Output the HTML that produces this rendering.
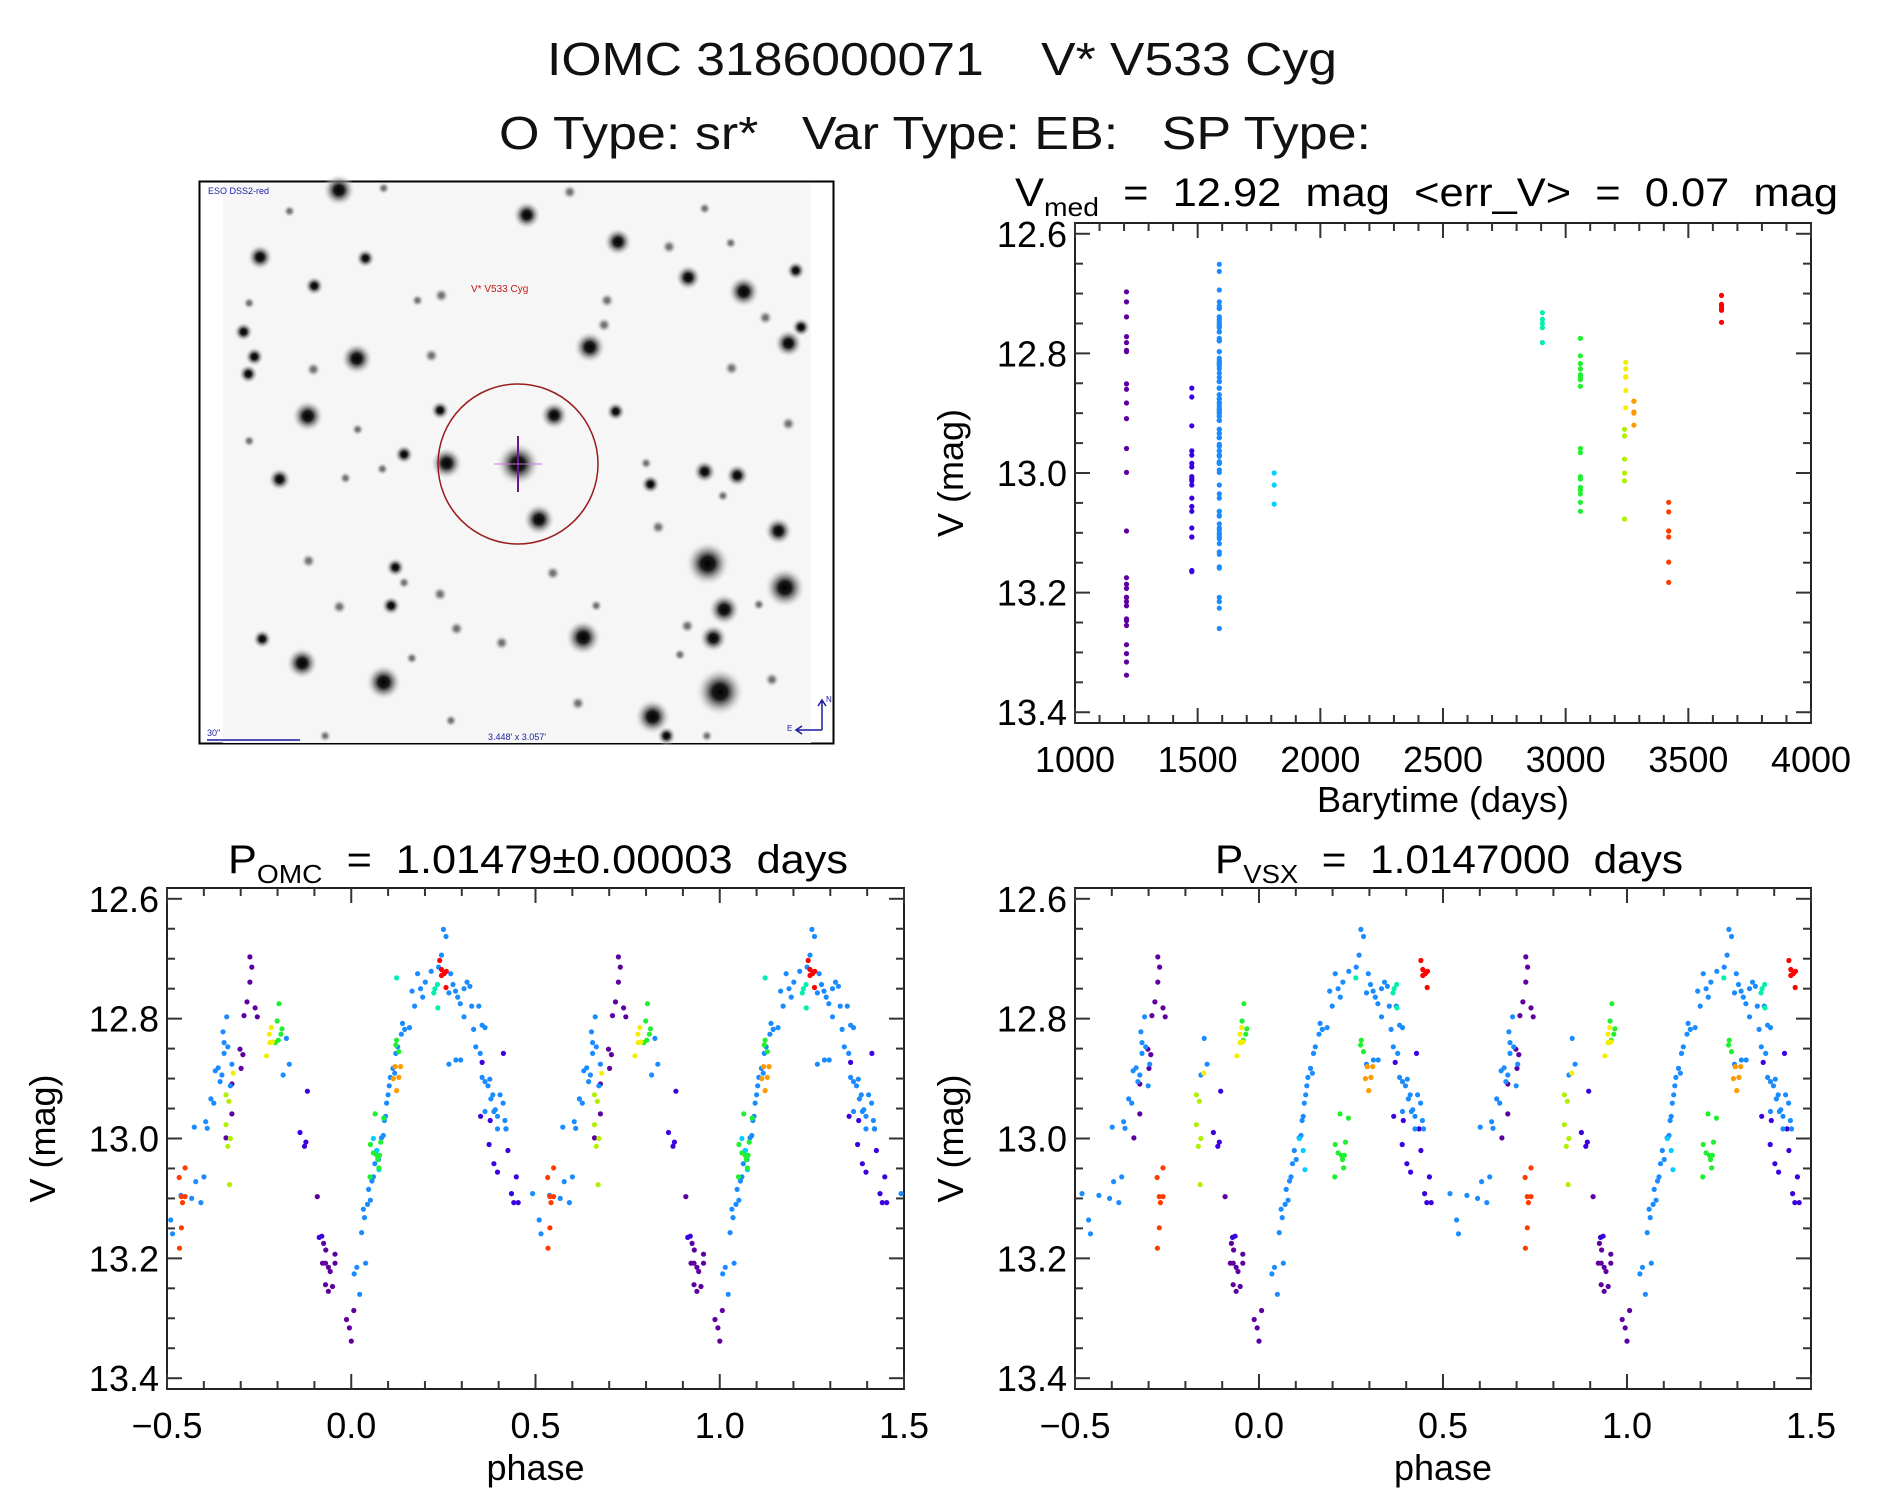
<!DOCTYPE html>
<html><head><meta charset="utf-8"><title>IOMC 3186000071 V* V533 Cyg</title>
<style>
html,body{margin:0;padding:0;background:#fff;}
svg{display:block;font-family:"Liberation Sans",sans-serif;}
text{white-space:pre;}
</style></head>
<body>
<svg id="fig" width="1889" height="1494" viewBox="0 0 1889 1494" xmlns="http://www.w3.org/2000/svg" xml:space="preserve">
<rect x="0" y="0" width="1889" height="1494" fill="#fff"/>
<text x="547" y="75" font-size="46" textLength="790" lengthAdjust="spacingAndGlyphs" fill="#111">IOMC 3186000071    V* V533 Cyg</text>
<text x="499" y="149" font-size="46" textLength="872" lengthAdjust="spacingAndGlyphs" fill="#111">O Type: sr*   Var Type: EB:   SP Type:</text>

<g id="sky">
  <rect x="199.5" y="181.5" width="634" height="562" fill="#fff" stroke="#000" stroke-width="2"/>
  <rect x="223" y="183" width="588" height="560" fill="#f6f6f6"/>
  <g id="stars"></g>
  <circle cx="518" cy="464" r="80" fill="none" stroke="#9b1c1c" stroke-width="1.5"/>
  <line x1="518" y1="436" x2="518" y2="492" stroke="#6a1a8a" stroke-width="2"/>
  <line x1="494" y1="464" x2="542" y2="464" stroke="#d070e0" stroke-width="1"/>
  <text x="208" y="194" font-size="9" fill="#1a1aa0">ESO DSS2-red</text>
  <text x="471" y="292" font-size="10" fill="#c01818">V* V533 Cyg</text>
  <text x="207" y="736" font-size="9" fill="#1a1aa0">30"</text>
  <line x1="207" y1="740" x2="300" y2="740" stroke="#1a1aa0" stroke-width="1.5"/>
  <text x="488" y="740" font-size="9" fill="#1a1aa0">3.448' x 3.057'</text>
  <path d="M822 730 L822 700 M818 706 L822 700 L826 706 M822 730 L796 730 M802 726 L796 730 L802 734" stroke="#1a1aa0" stroke-width="1.5" fill="none"/>
  <text x="826" y="702" font-size="8" fill="#1a1aa0">N</text>
  <text x="787" y="731" font-size="8" fill="#1a1aa0">E</text>
</g>
<g id="plots"></g>
</svg>
<script>
// ---- Data: one cycle of photometry, OMC phase, V magnitude, observing group ----
const groupNames = ["purple","indigo","blue","cyan","aqua","green","yellowgreen","yellow","orange","redorange","red"];
const groupColors = ["#5e00a0","#3a00dd","#1a8cff","#00d0ff","#00f0b0","#20f030","#b0f000","#f4ee00","#ff9a00","#ff3c00","#ff0000"];
const groupTimes = [1210,1476,1588,1812,2905,3060,3240,3245,3278,3420,3635];
const groupVsxShift = [0.0,0.015,0.027,0.05,0.14,0.155,0.17,0.17,0.175,0.19,0.2];

const phaseBlue = [-0.490,-0.485,-0.462,-0.433,-0.426,-0.422,-0.408,-0.400,-0.395,-0.391,-0.381,-0.373,-0.369,-0.361,-0.356,-0.351,-0.345,-0.345,-0.338,-0.335,-0.328,-0.324,-0.348,-0.185,-0.168,-0.176,0.008,0.015,0.023,0.028,0.033,0.036,0.039,0.044,0.047,0.052,0.056,0.060,0.064,0.069,0.074,0.082,0.087,0.090,0.093,0.096,0.100,0.103,0.106,0.113,0.118,0.121,0.126,0.136,0.139,0.145,0.158,0.165,0.172,0.180,0.188,0.194,0.201,0.217,0.237,0.245,0.250,0.257,0.265,0.270,0.276,0.283,0.289,0.296,0.306,0.314,0.322,0.327,0.346,0.306,0.284,0.297,0.265,0.332,0.338,0.355,0.363,0.350,0.355,0.363,0.371,0.376,0.379,0.384,0.387,0.391,0.397,0.404,0.412,0.417,0.420,0.397,0.363,0.492];
const magBlue = [13.136,13.159,13.095,13.100,12.981,13.072,13.107,13.064,12.972,12.983,12.934,12.941,12.887,12.882,12.905,12.894,12.858,12.840,12.797,12.847,12.912,12.876,12.822,12.894,12.876,12.833,13.226,13.215,13.260,13.157,13.118,13.132,13.208,13.110,13.085,13.103,13.071,13.064,13.042,13.020,13.035,12.999,12.995,12.970,12.963,12.941,12.927,12.912,12.898,12.883,12.891,12.858,12.847,12.826,12.808,12.818,12.815,12.754,12.779,12.725,12.750,12.764,12.739,12.721,12.714,12.694,12.651,12.663,12.757,12.725,12.743,12.754,12.764,12.775,12.750,12.739,12.746,12.779,12.779,12.797,12.869,12.869,12.876,12.818,12.847,12.811,12.815,12.858,12.898,12.905,12.912,12.901,12.934,12.927,12.955,12.952,12.963,12.927,12.941,12.970,12.984,12.984,12.955,13.092];
const phaseIndigo = [0.351,0.374,0.387,0.397,0.420,0.425,0.435,0.441,0.453,0.448,0.377,0.413,0.355,-0.087,-0.080,-0.119,-0.139,-0.127,-0.123];
const magIndigo = [12.963,13.010,13.042,13.056,12.984,13.020,13.092,13.107,13.107,13.064,12.970,12.858,12.873,13.165,13.163,12.921,12.990,13.013,13.006];
const phasePurple = [-0.092,-0.075,-0.069,-0.078,-0.070,-0.062,-0.057,-0.070,-0.062,-0.051,-0.044,-0.044,-0.013,-0.005,0.000,0.007,-0.275,-0.270,-0.275,-0.283,-0.261,-0.255,-0.291,-0.302,-0.294,-0.299,-0.324,-0.324,-0.340];
const magPurple = [13.097,13.175,13.186,13.208,13.208,13.215,13.222,13.244,13.255,13.247,13.193,13.208,13.302,13.316,13.338,13.287,12.697,12.714,12.739,12.772,12.782,12.797,12.795,12.851,12.860,12.883,12.909,12.959,12.999];
const phaseCyan = [0.060,0.070,0.075];
const magCyan = [13.000,13.020,13.052];
const phaseAqua = [0.123,0.224,0.235,0.227,0.234];
const magAqua = [12.732,12.757,12.782,12.750,12.743];
const phaseGreen = [-0.206,-0.198,-0.191,-0.201,-0.196,-0.188,0.051,0.060,0.069,0.077,0.072,0.075,0.080,0.088,0.065,0.052,0.123,0.129,0.121];
const magGreen = [12.840,12.836,12.826,12.804,12.775,12.817,13.064,13.024,13.028,13.028,13.035,13.049,13.006,12.966,12.959,13.010,12.836,12.855,12.844];
const phaseYellowGreen = [-0.340,-0.332,-0.340,-0.335,-0.330,-0.328];
const magYellowGreen = [12.927,12.938,12.977,13.013,13.077,13.000];
const phaseYellow = [-0.230,-0.221,-0.214,-0.217,-0.222,-0.320];
const magYellow = [12.862,12.840,12.839,12.815,12.826,12.891];
const phaseOrange = [0.119,0.129,0.123,0.134,0.114];
const magOrange = [12.880,12.898,12.920,12.880,12.900];
const phaseRedOrange = [-0.467,-0.461,-0.451,-0.461,-0.466,-0.458,-0.451];
const magRedOrange = [13.065,13.097,13.097,13.149,13.183,13.107,13.049];
const phaseRed = [0.240,0.245,0.252,0.245,0.257,0.258];
const magRed = [12.703,12.718,12.725,12.728,12.748,12.721];

const groupPhases = [phasePurple,phaseIndigo,phaseBlue,phaseCyan,phaseAqua,phaseGreen,phaseYellowGreen,phaseYellow,phaseOrange,phaseRedOrange,phaseRed];
const groupMags = [magPurple,magIndigo,magBlue,magCyan,magAqua,magGreen,magYellowGreen,magYellow,magOrange,magRedOrange,magRed];

const timeTicks = [1000,1500,2000,2500,3000,3500,4000];
const phaseTicks = [-0.5,0.0,0.5,1.0,1.5];
const magTicks = [12.6,12.8,13.0,13.2,13.4];

// star field (finder chart image) — image coordinates from survey cutout
const stars = [[367,80,25],[800,145,22],[1010,215,22],[185,255,20],[428,258,15],[310,330,15],[1172,308,20],[1300,345,25],[1420,290,15],[1128,228,12],[1270,218,10],[603,355,12],[548,368,10],[985,368,12],[147,450,15],[172,515,15],[158,560,15],[408,520,25],[580,512,12],[308,548,12],[945,490,25],[1350,413,12],[1432,438,15],[1403,480,22],[978,432,12],[1272,545,12],[600,655,15],[295,670,25],[863,668,22],[1005,658,15],[1403,690,12],[517,770,15],[615,793,25],[780,795,34],[230,835,18],[467,808,10],[382,832,10],[1210,815,18],[1285,825,18],[1085,848,15],[1075,793,10],[1252,878,10],[828,940,25],[1103,960,12],[1380,970,22],[1217,1055,35],[1395,1118,32],[297,1048,12],[497,1065,15],[517,1105,10],[600,1135,12],[860,1080,12],[368,1168,12],[487,1165,15],[1255,1175,25],[1230,1250,22],[1170,1218,12],[930,1248,28],[742,1262,12],[638,1225,12],[190,1252,15],[282,1315,25],[470,1365,28],[535,1302,10],[1245,1390,38],[1090,1455,28],[1122,1505,15],[918,1420,12],[1365,1358,12],[1153,1293,10],[960,1165,10],[1335,1162,10],[1215,1505,10],[625,1465,10],[335,1505,10],[899,85,12],[470,75,10],[160,375,10],[160,735,10],[410,705,10],[253,135,10],[1210,128,10]];

const NS = "http://www.w3.org/2000/svg";
function mk(tag, attrs, parent){const e=document.createElementNS(NS,tag);for(const k in attrs)e.setAttribute(k,attrs[k]);parent.appendChild(e);return e;}

// stars
const sg=document.getElementById('stars');
const defs=mk('defs',{},sg);
const rg=mk('radialGradient',{id:'starg'},defs);
mk('stop',{offset:'0','stop-color':'#000'},rg);
mk('stop',{offset:'0.3','stop-color':'#1a1a1a'},rg);
mk('stop',{offset:'0.6','stop-color':'#888','stop-opacity':'0.7'},rg);
mk('stop',{offset:'1','stop-color':'#f6f6f6','stop-opacity':'0'},rg);
stars.forEach(s=>{
  const c=mk('circle',{cx:199.3+(s[0]-45)*0.4338,cy:181.3+(s[1]-57)*0.383,r:s[2]*0.4338*1.5,fill:'url(#starg)',opacity:s[2]<13?0.55:1},sg);
  
  
});

const root=document.getElementById('plots');
function axes(name,x0,x1,y0,y1,xmin,xmax,ymin,ymax,xMajor,xMinorStep,xLabelFmt){
  const g=mk('g',{},root);
  
  
  const sx=v=>x0+(v-xmin)/(xmax-xmin)*(x1-x0);
  const sy=v=>y0+(v-ymin)/(ymax-ymin)*(y1-y0);
  mk('rect',{x:x0,y:y0,width:x1-x0,height:y1-y0,fill:'none',stroke:'#222','stroke-width':2},g);
  for(let v=12.6;v<=13.401;v+=0.05){
    const vv=Math.round(v*100)/100;const major=Math.abs(vv*5-Math.round(vv*5))<1e-6;
    const L=major?15:8;const y=sy(vv);
    mk('line',{x1:x0,y1:y,x2:x0+L,y2:y,stroke:'#333','stroke-width':2},g);
    mk('line',{x1:x1,y1:y,x2:x1-L,y2:y,stroke:'#333','stroke-width':2},g);
  }
  magTicks.forEach(v=>{
    const t=mk('text',{x:x0-8,y:sy(v)+13,'font-size':36,'text-anchor':'end',fill:'#000'},g);
    t.textContent=v.toFixed(1);
    
    
  });
  const n=Math.round((xmax-xmin)/xMinorStep);
  for(let i=0;i<=n;i++){
    const v=xmin+i*xMinorStep;const major=xMajor.some(m=>Math.abs(m-v)<1e-6);
    const L=major?15:8;const x=sx(v);
    mk('line',{x1:x,y1:y1,x2:x,y2:y1-L,stroke:'#333','stroke-width':2},g);
    mk('line',{x1:x,y1:y0,x2:x,y2:y0+L,stroke:'#333','stroke-width':2},g);
  }
  xMajor.forEach(v=>{
    const t=mk('text',{x:sx(v),y:y1+49,'font-size':36,'text-anchor':'middle',fill:'#000'},g);
    t.textContent=xLabelFmt(v);
    
    
  });
  const yl=mk('text',{x:0,y:0,'font-size':36,'text-anchor':'middle',fill:'#000',transform:`translate(${x0-112},${(y0+y1)/2}) rotate(-90)`},g);
  yl.textContent='V (mag)';
  
  
  return {g,sx,sy};
}
function dot(g,x,y,c){
  const d=mk('circle',{cx:x.toFixed(1),cy:y.toFixed(1),r:2.6,fill:c},g);
  
  
}
function title(x,y,main,sub,rest,len){
  const t=mk('text',{x:x,y:y,'font-size':40,fill:'#000',textLength:len,lengthAdjust:'spacingAndGlyphs'},root);
  
  
  const a=mk('tspan',{},t);a.textContent=main;
  const b=mk('tspan',{dy:10,'font-size':26},t);b.textContent=sub;
  const c=mk('tspan',{dy:-10},t);c.textContent=rest;
}

const A=axes('light-curve-time',1075,1811,223,723,1000,4000,12.582,13.418,timeTicks,100,v=>String(v));
groupMags.forEach((ms,gi)=>ms.forEach(m=>dot(A.g,A.sx(groupTimes[gi]),A.sy(m),groupColors[gi])));
const xt=mk('text',{x:1443,y:812,'font-size':36,'text-anchor':'middle',fill:'#000'},A.g);
xt.textContent='Barytime (days)';


title(1015,206,'V','med','  =  12.92  mag  <err_V>  =  0.07  mag',823);

function phasePlot(name,x0,x1,useShift){
  const P=axes(name,x0,x1,888,1389,-0.5,1.5,12.582,13.418,phaseTicks,0.1,v=>v.toFixed(1).replace('-','\u2212'));
  groupPhases.forEach((ps,gi)=>ps.forEach((p,i)=>{
    let ph=p+(useShift?groupVsxShift[gi]:0);
    ph=((ph+0.5)%1+1)%1-0.5;
    const m=groupMags[gi][i];
    dot(P.g,P.sx(ph),P.sy(m),groupColors[gi]);
    dot(P.g,P.sx(ph+1),P.sy(m),groupColors[gi]);
  }));
  const t=mk('text',{x:(x0+x1)/2,y:1480,'font-size':36,'text-anchor':'middle',fill:'#000'},P.g);
  t.textContent='phase';
  
  
}
phasePlot('phase-plot-omc',167,904,false);
title(228,873,'P','OMC','  =  1.01479\u00b10.00003  days',620);
phasePlot('phase-plot-vsx',1075,1811,true);
title(1215,873,'P','VSX','  =  1.0147000  days',468);
</script>
</body></html>
